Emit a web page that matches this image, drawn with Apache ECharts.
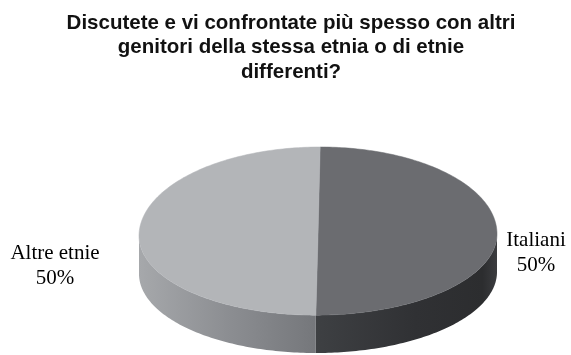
<!DOCTYPE html>
<html>
<head>
<meta charset="utf-8">
<script src="https://cdn.jsdelivr.net/npm/echarts@6/dist/echarts.min.js"></script>
<style>
  html, body { margin: 0; padding: 0; background: #ffffff; }
  #chart { width: 571px; height: 355px; }
</style>
</head>
<body>
<div id="chart"></div>
<script>
// Survey answers
var categories = ['Italiani', 'Altre etnie'];
var values = [50, 50];

var titleText = 'Discutete e vi confrontate più spesso con altri\ngenitori della stessa etnia o di etnie\ndifferenti?';

// Look of the 3D pie (all in axis units of the hidden grid)
var FRONT = 0.91;   // front half of the rim is slightly flatter (perspective)
var DEPTH = 0.43;   // thickness of the disc
var SKEW = 0.012;   // slight tilt of the disc
var START_ANGLE = 90; // first slice starts at the back, goes clockwise

var topColors = ['#6b6c70', '#b3b5b8'];
var sideColors = [
  [[0, '#3e4043'], [0.55, '#303134'], [0.92, '#2c2d2f'], [1, '#3b3c3f']],
  [[0, '#a6a8ab'], [0.5, '#8c8e92'], [1, '#75777b']]
];
// label placement relative to the slice rim point at its mid angle (pixels)
var labelShift = [[39, 18], [-84, 31]];

// build slice angles from the values
var total = values.reduce(function (a, b) { return a + b; }, 0);
var sliceData = [];
var acc = START_ANGLE;
values.forEach(function (v, i) {
  var span = v / total * 360;
  sliceData.push({ name: categories[i], value: [acc, acc - span, v] });
  acc -= span;
});

function rad(d) { return d * Math.PI / 180; }

function renderSlice(params, api) {
  var i = params.dataIndex;
  var a0 = api.value(0), a1 = api.value(1), v = api.value(2);

  function pt(deg, drop) {
    var t = rad(deg);
    var c = Math.cos(t), s = Math.sin(t);
    var y = s > 0 ? s : s * FRONT;
    return api.coord([c + SKEW * s, y - drop]);
  }

  var children = [];

  // rim: the parts of the slice that face the viewer (lower half)
  var windows = [[-540, -360], [-180, 0], [180, 360]];
  windows.forEach(function (w) {
    var lo = Math.max(a1, w[0]), hi = Math.min(a0, w[1]);
    if (hi - lo <= 0.01) return;
    var topEdge = [], bottom = [];
    var n = Math.max(2, Math.ceil(hi - lo));
    for (var k = 0; k <= n; k++) {
      var d = hi - (hi - lo) * k / n;
      topEdge.push(pt(d, 0));
      bottom.push(pt(d, DEPTH));
    }
    var poly = topEdge.concat(bottom.reverse());
    children.push({
      type: 'polygon',
      shape: { points: poly },
      style: {
        fill: new echarts.graphic.LinearGradient(0, 0, 1, 0,
          sideColors[i].map(function (s) { return { offset: s[0], color: s[1] }; })),
        stroke: null
      }
    });
  });

  // top face of the slice
  var top = [api.coord([0, 0])];
  var m = Math.max(2, Math.ceil(Math.abs(a0 - a1)));
  for (var k = 0; k <= m; k++) {
    top.push(pt(a0 - (a0 - a1) * k / m, 0));
  }
  children.push({
    type: 'polygon',
    shape: { points: top },
    style: { fill: topColors[i], stroke: topColors[i], lineWidth: 0.5 }
  });

  // data label
  var mid = (a0 + a1) / 2;
  var anchor = pt(mid, 0);
  children.push({
    type: 'text',
    x: anchor[0] + labelShift[i][0],
    y: anchor[1] + labelShift[i][1],
    style: {
      text: categories[i] + '\n' + Math.round(v / total * 100) + '%',
      fill: '#000000',
      fontFamily: '"Liberation Serif", "Times New Roman", serif',
      fontSize: 21,
      lineHeight: 25,
      align: 'center',
      verticalAlign: 'middle'
    }
  });

  return { type: 'group', children: children };
}

var chart = echarts.init(document.getElementById('chart'), null, { renderer: 'canvas' });
chart.setOption({
  backgroundColor: '#ffffff',
  animation: false,
  graphic: [{
    type: 'text',
    x: 291,
    y: 11,
    style: {
      text: titleText,
      align: 'center',
      verticalAlign: 'top',
      fontFamily: '"Liberation Sans", Arial, sans-serif',
      fontWeight: 'bold',
      fontSize: 20.5,
      lineHeight: 24.5,
      fill: '#111111'
    }
  }],
  grid: { left: 139, top: 147, width: 358, height: 206 },
  xAxis: { type: 'value', min: -1, max: 1, show: false },
  yAxis: { type: 'value', min: -1 - DEPTH + (1 - FRONT), max: 1, show: false },
  series: [{
    type: 'custom',
    coordinateSystem: 'cartesian2d',
    renderItem: renderSlice,
    data: sliceData,
    clip: false
  }]
});
</script>
</body>
</html>
